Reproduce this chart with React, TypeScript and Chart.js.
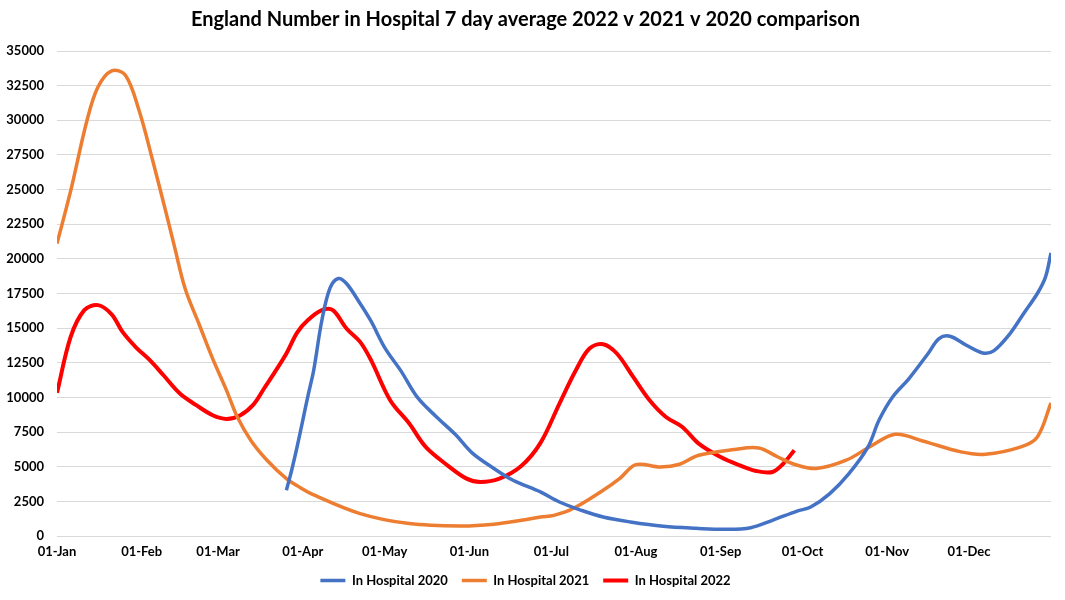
import { useEffect, useRef } from "react";
import { Chart, registerables } from "chart.js";

Chart.register(...registerables);

// day-of-year positions for the month ticks
const monthTickDays = [0, 31, 59, 90, 120, 151, 181, 212, 243, 273, 304, 334];
const monthTickLabels = [
  "01-Jan", "01-Feb", "01-Mar", "01-Apr", "01-May", "01-Jun",
  "01-Jul", "01-Aug", "01-Sep", "01-Oct", "01-Nov", "01-Dec",
];

const days2020 = [84, 86, 88, 90, 92, 94, 97, 100, 103, 106, 111, 115, 120, 126, 132, 139, 146, 152, 160, 167, 177, 184, 192, 200, 210, 222, 234, 245, 254, 262, 271, 276, 283, 290, 297, 301, 306, 312, 319, 323, 327, 333, 339, 343, 349, 354, 359, 362, 364];
const values2020 = [3300, 4800, 6500, 8350, 10200, 11960, 15570, 17900, 18580, 18220, 16780, 15500, 13600, 11900, 10000, 8590, 7300, 6000, 4870, 4020, 3180, 2455, 1855, 1370, 1010, 700, 555, 480, 600, 1130, 1800, 2090, 3060, 4500, 6430, 8350, 10030, 11360, 13170, 14250, 14420, 13770, 13210, 13360, 14610, 16060, 17500, 18700, 20430];

const days2021 = [0, 5, 11, 15, 20, 25, 30, 35, 40, 43, 47, 52, 57, 62, 66, 71, 77, 84, 89, 93, 111, 129, 148, 160, 170, 177, 182, 189, 200, 206, 212, 221, 228, 235, 248, 257, 264, 270, 278, 289, 298, 307, 317, 331, 340, 353, 359, 364];
const values2021 = [21100, 24900, 30000, 32400, 33570, 33260, 30740, 27130, 23280, 20900, 17800, 15300, 12800, 10550, 8600, 6900, 5450, 4140, 3500, 3060, 1620, 895, 720, 850, 1130, 1370, 1490, 1980, 3300, 4140, 5150, 4980, 5180, 5830, 6240, 6350, 5700, 5180, 4870, 5470, 6480, 7340, 6860, 6070, 5900, 6430, 7150, 9600];

const days2022 = [0, 5, 10, 15, 20, 24, 29, 34, 39, 45, 51, 57, 62, 67, 72, 76, 80, 84, 88, 92, 97, 101, 106, 111, 115, 122, 129, 135, 143, 150, 155, 162, 170, 177, 184, 190, 195, 200, 205, 211, 217, 223, 229, 235, 243, 250, 256, 262, 266, 270];
const values2022 = [10330, 14370, 16300, 16660, 16000, 14730, 13600, 12690, 11600, 10280, 9440, 8715, 8450, 8700, 9500, 10700, 11900, 13170, 14700, 15600, 16300, 16300, 14970, 14010, 12690, 9800, 8115, 6430, 5100, 4140, 3900, 4140, 5050, 6700, 9560, 11960, 13530, 13840, 13170, 11480, 9800, 8590, 7870, 6670, 5700, 5100, 4690, 4620, 5230, 6190];

const toPoints = (days: number[], values: number[]) =>
  days.map((d, i) => ({ x: d, y: values[i] }));

export default function App() {
  const canvasRef = useRef<HTMLCanvasElement>(null);
  const chartRef = useRef<Chart | null>(null);

  useEffect(() => {
    document.body.style.margin = "0";
    if (!canvasRef.current) return;
    if (chartRef.current) chartRef.current.destroy();

    const font = { family: "Lato", weight: "bold" as const, size: 13 };

    chartRef.current = new Chart(canvasRef.current, {
      type: "line",
      data: {
        datasets: [
          {
            label: "In Hospital 2020",
            data: toPoints(days2020, values2020),
            borderColor: "#4472C4",
            backgroundColor: "#4472C4",
            borderWidth: 3.5,
            pointRadius: 0,
            tension: 0.35,
          },
          {
            label: "In Hospital 2021",
            data: toPoints(days2021, values2021),
            borderColor: "#ED7D31",
            backgroundColor: "#ED7D31",
            borderWidth: 3.5,
            pointRadius: 0,
            tension: 0.35,
          },
          {
            label: "In Hospital 2022",
            data: toPoints(days2022, values2022),
            borderColor: "#FF0000",
            backgroundColor: "#FF0000",
            borderWidth: 4,
            pointRadius: 0,
            tension: 0.35,
          },
        ],
      },
      options: {
        animation: false,
        responsive: false,
        layout: { padding: { left: 0, right: 14, bottom: 3 } },
        plugins: {
          title: {
            display: true,
            text: "England Number in Hospital 7 day average 2022 v 2021 v 2020 comparison",
            color: "#000",
            font: { family: "Lato", weight: "bold", size: 20 },
            padding: { top: 8, bottom: 19 },
          },
          legend: {
            position: "bottom",
            labels: {
              color: "#000",
              font,
              boxWidth: 25,
              boxHeight: 0,
              padding: 14,
            },
          },
          tooltip: { enabled: false },
        },
        scales: {
          x: {
            type: "linear",
            min: 0,
            max: 364,
            grid: { display: false, drawTicks: false },
            border: { display: false },
            afterBuildTicks: (scale) => {
              scale.ticks = monthTickDays.map((v) => ({ value: v }));
            },
            afterFit: (scale) => {
              scale.height = 24;
            },
            ticks: {
              color: "#000",
              font,
              autoSkip: false,
              maxRotation: 0,
              padding: 8,
              callback: (v) => monthTickLabels[monthTickDays.indexOf(Number(v))],
            },
          },
          y: {
            min: 0,
            max: 35000,
            grid: { color: "#D9D9D9", drawTicks: false },
            border: { display: false },
            afterFit: (scale) => {
              scale.width = 57;
            },
            ticks: {
              stepSize: 2500,
              color: "#000",
              font,
              padding: 13,
              callback: (v) => String(v),
            },
          },
        },
      },
    });

    return () => {
      if (chartRef.current) {
        chartRef.current.destroy();
        chartRef.current = null;
      }
    };
  }, []);

  return (
    <div style={{ width: 1065, height: 600, background: "#fff" }}>
      <canvas ref={canvasRef} width={1065} height={600}></canvas>
    </div>
  );
}
